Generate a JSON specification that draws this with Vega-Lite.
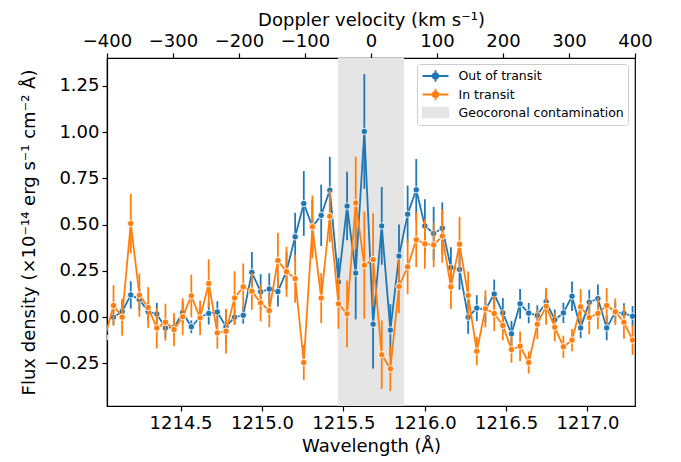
{
  "$schema": "https://vega.github.io/schema/vega-lite/v6.json",
  "width": 528,
  "height": 348,
  "autosize": "none",
  "padding": {"left": 107, "top": 58, "right": 46, "bottom": 56},
  "datasets": {
    "spec": [
      {"series": "Out of transit", "wl": 1214.088, "flux": 0.00, "err": 0.04},
      {"series": "Out of transit", "wl": 1214.141, "flux": 0.03, "err": 0.06},
      {"series": "Out of transit", "wl": 1214.194, "flux": 0.12, "err": 0.074},
      {"series": "Out of transit", "wl": 1214.247, "flux": 0.095, "err": 0.06},
      {"series": "Out of transit", "wl": 1214.301, "flux": 0.03, "err": 0.05},
      {"series": "Out of transit", "wl": 1214.354, "flux": 0.017, "err": 0.06},
      {"series": "Out of transit", "wl": 1214.407, "flux": -0.058, "err": 0.05},
      {"series": "Out of transit", "wl": 1214.460, "flux": -0.055, "err": 0.05},
      {"series": "Out of transit", "wl": 1214.513, "flux": 0.025, "err": 0.06},
      {"series": "Out of transit", "wl": 1214.566, "flux": -0.052, "err": 0.035},
      {"series": "Out of transit", "wl": 1214.620, "flux": 0.00, "err": 0.05},
      {"series": "Out of transit", "wl": 1214.673, "flux": 0.02, "err": 0.06},
      {"series": "Out of transit", "wl": 1214.726, "flux": 0.028, "err": 0.058},
      {"series": "Out of transit", "wl": 1214.779, "flux": -0.052, "err": 0.095},
      {"series": "Out of transit", "wl": 1214.832, "flux": 0.00, "err": 0.04},
      {"series": "Out of transit", "wl": 1214.885, "flux": 0.01, "err": 0.045},
      {"series": "Out of transit", "wl": 1214.938, "flux": 0.242, "err": 0.11},
      {"series": "Out of transit", "wl": 1214.992, "flux": 0.137, "err": 0.095},
      {"series": "Out of transit", "wl": 1215.045, "flux": 0.152, "err": 0.085},
      {"series": "Out of transit", "wl": 1215.098, "flux": 0.138, "err": 0.08},
      {"series": "Out of transit", "wl": 1215.151, "flux": 0.25, "err": 0.1},
      {"series": "Out of transit", "wl": 1215.204, "flux": 0.434, "err": 0.13},
      {"series": "Out of transit", "wl": 1215.257, "flux": 0.614, "err": 0.175},
      {"series": "Out of transit", "wl": 1215.310, "flux": 0.488, "err": 0.145},
      {"series": "Out of transit", "wl": 1215.364, "flux": 0.55, "err": 0.166},
      {"series": "Out of transit", "wl": 1215.417, "flux": 0.686, "err": 0.18},
      {"series": "Out of transit", "wl": 1215.470, "flux": 0.19, "err": 0.13},
      {"series": "Out of transit", "wl": 1215.523, "flux": 0.60, "err": 0.185},
      {"series": "Out of transit", "wl": 1215.576, "flux": 0.238, "err": 0.25},
      {"series": "Out of transit", "wl": 1215.629, "flux": 1.003, "err": 0.31},
      {"series": "Out of transit", "wl": 1215.683, "flux": -0.038, "err": 0.24},
      {"series": "Out of transit", "wl": 1215.736, "flux": 0.493, "err": 0.21},
      {"series": "Out of transit", "wl": 1215.789, "flux": -0.07, "err": 0.14},
      {"series": "Out of transit", "wl": 1215.842, "flux": 0.33, "err": 0.17},
      {"series": "Out of transit", "wl": 1215.895, "flux": 0.556, "err": 0.155},
      {"series": "Out of transit", "wl": 1215.948, "flux": 0.688, "err": 0.166},
      {"series": "Out of transit", "wl": 1216.001, "flux": 0.493, "err": 0.144},
      {"series": "Out of transit", "wl": 1216.055, "flux": 0.452, "err": 0.144},
      {"series": "Out of transit", "wl": 1216.108, "flux": 0.48, "err": 0.14},
      {"series": "Out of transit", "wl": 1216.161, "flux": 0.268, "err": 0.11},
      {"series": "Out of transit", "wl": 1216.214, "flux": 0.258, "err": 0.11},
      {"series": "Out of transit", "wl": 1216.267, "flux": 0.00, "err": 0.09},
      {"series": "Out of transit", "wl": 1216.320, "flux": 0.049, "err": 0.07},
      {"series": "Out of transit", "wl": 1216.373, "flux": 0.04, "err": 0.07},
      {"series": "Out of transit", "wl": 1216.427, "flux": 0.125, "err": 0.078},
      {"series": "Out of transit", "wl": 1216.480, "flux": 0.023, "err": 0.08},
      {"series": "Out of transit", "wl": 1216.533, "flux": -0.09, "err": 0.07},
      {"series": "Out of transit", "wl": 1216.586, "flux": 0.072, "err": 0.08},
      {"series": "Out of transit", "wl": 1216.639, "flux": 0.022, "err": 0.055},
      {"series": "Out of transit", "wl": 1216.692, "flux": 0.009, "err": 0.055},
      {"series": "Out of transit", "wl": 1216.746, "flux": 0.083, "err": 0.063},
      {"series": "Out of transit", "wl": 1216.799, "flux": -0.014, "err": 0.055},
      {"series": "Out of transit", "wl": 1216.852, "flux": 0.023, "err": 0.055},
      {"series": "Out of transit", "wl": 1216.905, "flux": 0.113, "err": 0.08},
      {"series": "Out of transit", "wl": 1216.958, "flux": -0.058, "err": 0.055},
      {"series": "Out of transit", "wl": 1217.011, "flux": 0.081, "err": 0.067},
      {"series": "Out of transit", "wl": 1217.064, "flux": 0.10, "err": 0.077},
      {"series": "Out of transit", "wl": 1217.118, "flux": -0.058, "err": 0.067},
      {"series": "Out of transit", "wl": 1217.171, "flux": 0.027, "err": 0.055},
      {"series": "Out of transit", "wl": 1217.224, "flux": 0.02, "err": 0.055},
      {"series": "Out of transit", "wl": 1217.277, "flux": 0.005, "err": 0.055},
      {"series": "In transit", "wl": 1214.035, "flux": -0.11, "err": 0.1},
      {"series": "In transit", "wl": 1214.088, "flux": 0.063, "err": 0.11},
      {"series": "In transit", "wl": 1214.141, "flux": 0.00, "err": 0.1},
      {"series": "In transit", "wl": 1214.194, "flux": 0.506, "err": 0.16},
      {"series": "In transit", "wl": 1214.247, "flux": 0.119, "err": 0.117},
      {"series": "In transit", "wl": 1214.301, "flux": 0.052, "err": 0.11},
      {"series": "In transit", "wl": 1214.354, "flux": -0.059, "err": 0.11},
      {"series": "In transit", "wl": 1214.407, "flux": -0.027, "err": 0.1},
      {"series": "In transit", "wl": 1214.460, "flux": -0.067, "err": 0.09},
      {"series": "In transit", "wl": 1214.513, "flux": 0.002, "err": 0.1},
      {"series": "In transit", "wl": 1214.566, "flux": 0.115, "err": 0.115},
      {"series": "In transit", "wl": 1214.620, "flux": -0.004, "err": 0.093},
      {"series": "In transit", "wl": 1214.673, "flux": 0.182, "err": 0.13},
      {"series": "In transit", "wl": 1214.726, "flux": -0.085, "err": 0.085},
      {"series": "In transit", "wl": 1214.779, "flux": -0.076, "err": 0.12},
      {"series": "In transit", "wl": 1214.832, "flux": 0.104, "err": 0.144},
      {"series": "In transit", "wl": 1214.885, "flux": 0.164, "err": 0.126},
      {"series": "In transit", "wl": 1214.938, "flux": 0.14, "err": 0.1},
      {"series": "In transit", "wl": 1214.992, "flux": 0.077, "err": 0.1},
      {"series": "In transit", "wl": 1215.045, "flux": 0.035, "err": 0.09},
      {"series": "In transit", "wl": 1215.098, "flux": 0.306, "err": 0.15},
      {"series": "In transit", "wl": 1215.151, "flux": 0.245, "err": 0.135},
      {"series": "In transit", "wl": 1215.204, "flux": 0.208, "err": 0.13},
      {"series": "In transit", "wl": 1215.257, "flux": -0.245, "err": 0.095},
      {"series": "In transit", "wl": 1215.310, "flux": 0.488, "err": 0.17},
      {"series": "In transit", "wl": 1215.364, "flux": 0.103, "err": 0.135},
      {"series": "In transit", "wl": 1215.417, "flux": 0.545, "err": 0.14},
      {"series": "In transit", "wl": 1215.470, "flux": 0.072, "err": 0.135},
      {"series": "In transit", "wl": 1215.523, "flux": 0.018, "err": 0.18},
      {"series": "In transit", "wl": 1215.576, "flux": 0.617, "err": 0.25},
      {"series": "In transit", "wl": 1215.629, "flux": 0.281, "err": 0.29},
      {"series": "In transit", "wl": 1215.683, "flux": 0.311, "err": 0.25},
      {"series": "In transit", "wl": 1215.736, "flux": -0.203, "err": 0.185},
      {"series": "In transit", "wl": 1215.789, "flux": -0.279, "err": 0.12},
      {"series": "In transit", "wl": 1215.842, "flux": 0.166, "err": 0.144},
      {"series": "In transit", "wl": 1215.895, "flux": 0.272, "err": 0.148},
      {"series": "In transit", "wl": 1215.948, "flux": 0.418, "err": 0.148},
      {"series": "In transit", "wl": 1216.001, "flux": 0.396, "err": 0.135},
      {"series": "In transit", "wl": 1216.055, "flux": 0.39, "err": 0.12},
      {"series": "In transit", "wl": 1216.108, "flux": 0.438, "err": 0.144},
      {"series": "In transit", "wl": 1216.161, "flux": 0.164, "err": 0.12},
      {"series": "In transit", "wl": 1216.214, "flux": 0.394, "err": 0.148},
      {"series": "In transit", "wl": 1216.267, "flux": 0.117, "err": 0.13},
      {"series": "In transit", "wl": 1216.320, "flux": -0.184, "err": 0.077},
      {"series": "In transit", "wl": 1216.373, "flux": 0.045, "err": 0.1},
      {"series": "In transit", "wl": 1216.427, "flux": 0.02, "err": 0.095},
      {"series": "In transit", "wl": 1216.480, "flux": -0.045, "err": 0.08},
      {"series": "In transit", "wl": 1216.533, "flux": -0.175, "err": 0.072},
      {"series": "In transit", "wl": 1216.586, "flux": -0.157, "err": 0.08},
      {"series": "In transit", "wl": 1216.639, "flux": -0.245, "err": 0.06},
      {"series": "In transit", "wl": 1216.692, "flux": -0.038, "err": 0.08},
      {"series": "In transit", "wl": 1216.746, "flux": 0.059, "err": 0.1},
      {"series": "In transit", "wl": 1216.799, "flux": -0.054, "err": 0.077},
      {"series": "In transit", "wl": 1216.852, "flux": -0.16, "err": 0.06},
      {"series": "In transit", "wl": 1216.905, "flux": -0.124, "err": 0.06},
      {"series": "In transit", "wl": 1216.958, "flux": 0.056, "err": 0.096},
      {"series": "In transit", "wl": 1217.011, "flux": -0.002, "err": 0.09},
      {"series": "In transit", "wl": 1217.064, "flux": 0.02, "err": 0.085},
      {"series": "In transit", "wl": 1217.118, "flux": 0.063, "err": 0.095},
      {"series": "In transit", "wl": 1217.171, "flux": 0.029, "err": 0.072},
      {"series": "In transit", "wl": 1217.224, "flux": -0.027, "err": 0.09},
      {"series": "In transit", "wl": 1217.277, "flux": -0.124, "err": 0.08}
    ]
  },
  "layer": [
    {
      "layer": [
        {
          "data": {"values": [{"lo": 1215.467, "hi": 1215.873, "label": "Geocoronal contamination"}]},
          "mark": {"type": "rect", "opacity": 1},
          "encoding": {
            "x": {"field": "lo", "type": "quantitative", "title": "Wavelength (Å)", "scale": {"domain": [1214.048, 1217.292], "nice": false, "zero": false},
                  "axis": {"orient": "bottom", "title": "Wavelength (Å)", "values": [1214.5, 1215.0, 1215.5, 1216.0, 1216.5, 1217.0], "format": ".1f", "labelOverlap": false, "labelFlush": false}},
            "x2": {"field": "hi"},
            "color": {
              "field": "label", "type": "nominal",
              "scale": {"domain": ["Out of transit", "In transit", "Geocoronal contamination"], "range": ["#1f77b4", "#ff7f0e", "#e5e5e5"]},
              "legend": {
                "title": null, "orient": "none", "legendX": 310, "legendY": 6,
                "labelFont": "DejaVu Sans", "labelFontSize": 12.5, "labelColor": "black", "labelLimit": 400,
                "fillColor": "white", "strokeColor": "#cccccc", "cornerRadius": 3, "padding": 4,
                "symbolSize": 196, "symbolOffset": 6.5, "labelOffset": 15, "rowPadding": -1.5,
                "symbolStrokeWidth": 1.8, "symbolOpacity": 1,
                "symbolType": {"expr": "datum.value === 'Geocoronal contamination' ? 'M-1.83,-0.69H1.83V0.69H-1.83Z' : 'M-1.857,0H1.857M0,-0.83V0.83M0.41,0L0.355,0.205L0.205,0.355L0,0.41L-0.205,0.355L-0.355,0.205L-0.41,0L-0.355,-0.205L-0.205,-0.355L0,-0.41L0.205,-0.355L0.355,-0.205Z'"}
              }
            }
          }
        },
        {
          "mark": {"type": "rule", "color": "#7f7f7f", "strokeWidth": 1.6, "strokeDash": [6, 3]},
          "encoding": {
            "y": {"datum": 0, "type": "quantitative", "title": "Flux density (×10⁻¹⁴ erg s⁻¹ cm⁻² Å)", "scale": {"domain": [-0.48, 1.4], "nice": false, "zero": false}}
          }
        },
        {
          "data": {"name": "spec"},
          "transform": [{"filter": "datum.series === 'Out of transit'"}],
          "mark": {"type": "errorbar", "thickness": 1.8, "clip": true},
          "encoding": {
            "x": {"field": "wl", "type": "quantitative", "title": "Wavelength (Å)", "scale": {"domain": [1214.048, 1217.292], "nice": false, "zero": false}},
            "y": {"field": "flux", "type": "quantitative", "title": "Flux density (×10⁻¹⁴ erg s⁻¹ cm⁻² Å)", "scale": {"domain": [-0.48, 1.4], "nice": false, "zero": false},
                  "axis": {"title": "Flux density (×10⁻¹⁴ erg s⁻¹ cm⁻² Å)", "values": [-0.25, 0, 0.25, 0.5, 0.75, 1, 1.25], "format": ".2f"}},
            "yError": {"field": "err"},
            "color": {"field": "series", "type": "nominal"}
          }
        },
        {
          "data": {"name": "spec"},
          "transform": [{"filter": "datum.series === 'Out of transit'"}],
          "mark": {"type": "line", "strokeWidth": 1.8, "clip": true,
                   "point": {"filled": true, "size": 42, "stroke": "white", "strokeWidth": 0.9, "opacity": 1}},
          "encoding": {
            "x": {"field": "wl", "type": "quantitative", "title": "Wavelength (Å)"},
            "y": {"field": "flux", "type": "quantitative", "title": "Flux density (×10⁻¹⁴ erg s⁻¹ cm⁻² Å)"},
            "color": {"field": "series", "type": "nominal"}
          }
        },
        {
          "data": {"name": "spec"},
          "transform": [{"filter": "datum.series === 'In transit'"}],
          "mark": {"type": "errorbar", "thickness": 1.8, "clip": true},
          "encoding": {
            "x": {"field": "wl", "type": "quantitative", "title": "Wavelength (Å)"},
            "y": {"field": "flux", "type": "quantitative", "title": "Flux density (×10⁻¹⁴ erg s⁻¹ cm⁻² Å)"},
            "yError": {"field": "err"},
            "color": {"field": "series", "type": "nominal"}
          }
        },
        {
          "data": {"name": "spec"},
          "transform": [{"filter": "datum.series === 'In transit'"}],
          "mark": {"type": "line", "strokeWidth": 1.8, "clip": true,
                   "point": {"filled": true, "size": 42, "stroke": "white", "strokeWidth": 0.9, "opacity": 1}},
          "encoding": {
            "x": {"field": "wl", "type": "quantitative", "title": "Wavelength (Å)"},
            "y": {"field": "flux", "type": "quantitative", "title": "Flux density (×10⁻¹⁴ erg s⁻¹ cm⁻² Å)"},
            "color": {"field": "series", "type": "nominal"}
          }
        }
      ]
    },
    {
      "data": {"values": [{"v": -400}, {"v": 400}]},
      "mark": {"type": "point", "opacity": 0},
      "encoding": {
        "x": {"field": "v", "type": "quantitative", "scale": {"domain": [-400, 400], "nice": false, "zero": false},
              "axis": {"orient": "top", "title": "Doppler velocity (km s⁻¹)", "values": [-400, -300, -200, -100, 0, 100, 200, 300, 400], "format": "d", "labelOverlap": false, "labelFlush": false, "titlePadding": 3}}
      }
    }
  ],
  "resolve": {"scale": {"x": "independent"}},
  "config": {
    "font": "DejaVu Sans",
    "view": {"stroke": "black", "strokeWidth": 1.2},
    "axis": {
      "domainColor": "black", "domainWidth": 1.2, "tickColor": "black", "tickWidth": 1.2, "tickSize": 5,
      "labelColor": "black", "titleColor": "black", "labelFont": "DejaVu Sans", "titleFont": "DejaVu Sans",
      "labelFontSize": 18, "titleFontSize": 18, "titleFontWeight": "normal", "grid": false,
      "labelPadding": 3, "titlePadding": 5
    }
  }
}
